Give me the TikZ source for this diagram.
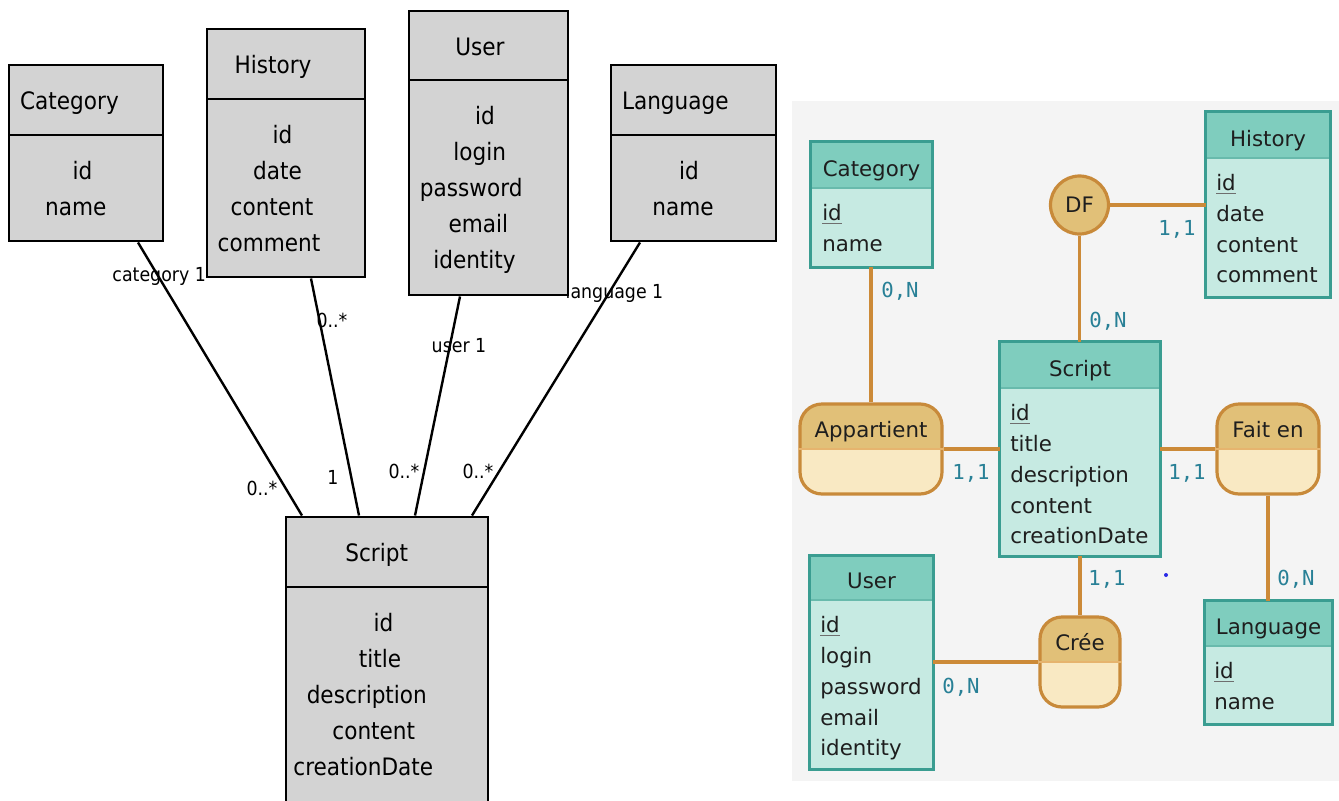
\documentclass[tikz,border=0pt]{standalone}
\usepackage{fontspec}
\usetikzlibrary{fit}
\newfontfamily\lfont[FakeStretch=0.9]{DejaVu Sans}
\newfontfamily\rfont{DejaVu Sans}
\newfontfamily\cfont{DejaVu Sans Mono}
\newcommand\pxu[1]{#1*0.75pt}
\definecolor{lgray}{RGB}{211,211,211}
\definecolor{bgc}{RGB}{244,244,244}
\definecolor{ehd}{RGB}{127,205,190}
\definecolor{ebd}{RGB}{198,234,226}
\definecolor{ebr}{RGB}{58,157,145}
\definecolor{esp}{RGB}{104,186,172}
\definecolor{ahd}{RGB}{225,192,120}
\definecolor{abd}{RGB}{249,233,195}
\definecolor{abr}{RGB}{200,138,58}
\definecolor{asp}{RGB}{230,180,110}
\definecolor{lnk}{RGB}{204,138,56}
\definecolor{crd}{RGB}{40,128,150}
\definecolor{rtx}{RGB}{30,30,30}
\definecolor{ulc}{RGB}{110,110,110}
\definecolor{dotc}{RGB}{40,40,230}
\tikzset{
  lbox/.style={draw=black, line width=2.2pt, fill=lgray, inner sep=0pt},
  ltxt/.style={inner sep=0pt, anchor=base, font=\lfont\fontsize{18}{20}\selectfont},
  llab/.style={inner sep=0pt, anchor=base, font=\lfont\fontsize{14.5}{16}\selectfont},
  llink/.style={draw=black, line width=1.8pt},
  ehead/.style={fill=ehd, inner sep=0pt},
  ebody/.style={fill=ebd, inner sep=0pt},
  eframe/.style={draw=ebr, line width=2.4pt},
  esep/.style={draw=esp, line width=1.6pt},
  rtitle/.style={inner sep=0pt, anchor=base, text=rtx, font=\rfont\fontsize{16}{18}\selectfont},
  rattr/.style={inner sep=0pt, anchor=base west, text=rtx, font=\rfont\fontsize{16}{18}\selectfont},
  ul/.style={draw=ulc, line width=1.2pt},
  assoc/.style={draw=abr, line width=2.4pt, fill=abd, rounded corners=16.5pt, inner sep=0pt,
    path picture={\fill[ahd, sharp corners] (path picture bounding box.north west) rectangle ([yshift=-33.75pt]path picture bounding box.north east);}},
  asep/.style={draw=asp, line width=1.6pt},
  dfnode/.style={circle, draw=abr, line width=2.4pt, fill=ahd, inner sep=0pt, minimum size=43.5pt, text=rtx, font=\rfont\fontsize{16}{18}\selectfont},
  rlink/.style={draw=lnk, line width=2.4pt},
  card/.style={inner sep=0pt, anchor=base, text=crd, font=\cfont\fontsize{15.5}{17}\selectfont}
}
\begin{document}
\begin{tikzpicture}[x=0.75pt,y=-0.75pt]
\useasboundingbox (0,0) rectangle (1339,800);
\clip (0,0) rectangle (1339,800);
\fill[white] (0,0) rectangle (1339,800);

% ---------- left diagram: labels (under boxes) ----------
\node[llab] (lcat) at (159.2,281) {category 1};
\node[llab] (lhis) at (332,327) {0..*};
\node[llab] (lusr) at (459,352) {user 1};
\node[llab] (llan) at (614.5,298) {language 1};
\node[llab] (lsc1) at (262,495) {0..*};
\node[llab] (lsc2) at (333,484) {1};
\node[llab] (lsc3) at (404,478) {0..*};
\node[llab] (lsc4) at (478,478) {0..*};

% ---------- left diagram: boxes ----------
\node[lbox, fit={(9,65) (163,135)}] (cath) {};
\node[lbox, fit={(9,135) (163,241)}] (catb) {};
\node[ltxt] (catt) at (69.5,109) {Category};
\node[ltxt] (cata1) at (82.5,179) {id};
\node[ltxt] (cata2) at (75.7,215) {name};

\node[lbox, fit={(207,29) (365,99)}] (hish) {};
\node[lbox, fit={(207,99) (365,277)}] (hisb) {};
\node[ltxt] (hist) at (273,73) {History};
\node[ltxt] (hisa1) at (282.5,143) {id};
\node[ltxt] (hisa2) at (277.5,179) {date};
\node[ltxt] (hisa3) at (272,215) {content};
\node[ltxt] (hisa4) at (269,251) {comment};

\node[lbox, fit={(409,11) (568,80)}] (usrh) {};
\node[lbox, fit={(409,80) (568,295)}] (usrb) {};
\node[ltxt] (usrt) at (480,55) {User};
\node[ltxt] (usra1) at (485,124) {id};
\node[ltxt] (usra2) at (479.7,160) {login};
\node[ltxt] (usra3) at (471.2,196) {password};
\node[ltxt] (usra4) at (478.3,232) {email};
\node[ltxt] (usra5) at (474.5,268) {identity};

\node[lbox, fit={(611,65) (776,135)}] (lanh) {};
\node[lbox, fit={(611,135) (776,241)}] (lanb) {};
\node[ltxt] (lant) at (675.3,109) {Language};
\node[ltxt] (lana1) at (689,179) {id};
\node[ltxt] (lana2) at (683,215) {name};

\node[lbox, fit={(286,517) (488,587)}] (scrh) {};
\node[lbox, fit={(286,587) (488,815)}] (scrb) {};
\node[ltxt] (scrt) at (376.7,561) {Script};
\node[ltxt] (scra1) at (383.5,631) {id};
\node[ltxt] (scra2) at (380,667) {title};
\node[ltxt] (scra3) at (366.8,703) {description};
\node[ltxt] (scra4) at (373.8,739) {content};
\node[ltxt] (scra5) at (363.3,775) {creationDate};

% ---------- left diagram: links ----------
\draw[llink] ([xshift=\pxu{52}]catb.south) -- ([xshift=\pxu{-85}]scrh.north);
\draw[llink] ([xshift=\pxu{25}]hisb.south) -- ([xshift=\pxu{-28}]scrh.north);
\draw[llink] ([xshift=\pxu{-28.5}]usrb.south) -- ([xshift=\pxu{28}]scrh.north);
\draw[llink] ([xshift=\pxu{-53.5}]lanb.south) -- ([xshift=\pxu{85}]scrh.north);

% ---------- right diagram ----------
\fill[bgc] (792,101) rectangle (1339,781);

% entities
\node[ehead, fit={(811,142) (932,188)}] (rcath) {};
\node[ebody, fit={(811,188) (932,267)}] (rcatb) {};
\draw[esep] (rcath.south west) -- (rcath.south east);
\draw[eframe] (rcath.north west) rectangle (rcatb.south east);
\node[rtitle] (rcatt) at (871.5,176) {Category};
\node[rattr] (rcata1) at (822,220) {id};
\node[rattr] (rcata2) at (822,251) {name};
\draw[ul] ([yshift=-2.5pt]rcata1.base west) -- ([yshift=-2.5pt]rcata1.base east);

\node[ehead, fit={(1206,112) (1330,158)}] (rhish) {};
\node[ebody, fit={(1206,158) (1330,297)}] (rhisb) {};
\draw[esep] (rhish.south west) -- (rhish.south east);
\draw[eframe] (rhish.north west) rectangle (rhisb.south east);
\node[rtitle] (rhist) at (1268,146) {History};
\node[rattr] (rhisa1) at (1216,190) {id};
\node[rattr] (rhisa2) at (1216,221) {date};
\node[rattr] (rhisa3) at (1216,252) {content};
\node[rattr] (rhisa4) at (1216,282) {comment};
\draw[ul] ([yshift=-2.5pt]rhisa1.base west) -- ([yshift=-2.5pt]rhisa1.base east);

\node[ehead, fit={(1000,342) (1160,388)}] (rscrh) {};
\node[ebody, fit={(1000,388) (1160,556)}] (rscrb) {};
\draw[esep] (rscrh.south west) -- (rscrh.south east);
\draw[eframe] (rscrh.north west) rectangle (rscrb.south east);
\node[rtitle] (rscrt) at (1080,376) {Script};
\node[rattr] (rscra1) at (1010,420) {id};
\node[rattr] (rscra2) at (1010,451) {title};
\node[rattr] (rscra3) at (1010,482) {description};
\node[rattr] (rscra4) at (1010,513) {content};
\node[rattr] (rscra5) at (1010,543) {creationDate};
\draw[ul] ([yshift=-2.5pt]rscra1.base west) -- ([yshift=-2.5pt]rscra1.base east);

\node[ehead, fit={(810,556) (933,600)}] (rusrh) {};
\node[ebody, fit={(810,600) (933,769)}] (rusrb) {};
\draw[esep] (rusrh.south west) -- (rusrh.south east);
\draw[eframe] (rusrh.north west) rectangle (rusrb.south east);
\node[rtitle] (rusrt) at (871.5,588) {User};
\node[rattr] (rusra1) at (820,632) {id};
\node[rattr] (rusra2) at (820,663) {login};
\node[rattr] (rusra3) at (820,694) {password};
\node[rattr] (rusra4) at (820,725) {email};
\node[rattr] (rusra5) at (820,755) {identity};
\draw[ul] ([yshift=-2.5pt]rusra1.base west) -- ([yshift=-2.5pt]rusra1.base east);

\node[ehead, fit={(1205,601) (1332,646)}] (rlanh) {};
\node[ebody, fit={(1205,646) (1332,724)}] (rlanb) {};
\draw[esep] (rlanh.south west) -- (rlanh.south east);
\draw[eframe] (rlanh.north west) rectangle (rlanb.south east);
\node[rtitle] (rlant) at (1268.5,634) {Language};
\node[rattr] (rlana1) at (1214,678) {id};
\node[rattr] (rlana2) at (1214,709) {name};
\draw[ul] ([yshift=-2.5pt]rlana1.base west) -- ([yshift=-2.5pt]rlana1.base east);

% associations
\node[assoc, fit={(800,404) (942,494)}] (app) {};
\draw[asep] (app.west) -- (app.east);
\node[rtitle] (appt) at (871,437) {Appartient};

\node[assoc, fit={(1217,404) (1319,494)}] (fait) {};
\draw[asep] (fait.west) -- (fait.east);
\node[rtitle] (faitt) at (1268,437) {Fait en};

\node[assoc, fit={(1040,617) (1120,707)}] (cree) {};
\draw[asep] (cree.west) -- (cree.east);
\node[rtitle] (creet) at (1080,650) {Crée};

\node[dfnode] (df) at (1079.5,205) {DF};

% links
\draw[rlink] (app.north) -- (app.north |- rcatb.south);
\draw[rlink] (app.east) -- (app.east -| rscrb.west);
\draw[rlink] (fait.west -| rscrb.east) -- (fait.west);
\draw[rlink] (fait.south) -- (fait.south |- rlanh.north);
\draw[rlink] (rscrb.south) -- (cree.north);
\draw[rlink] (cree.west -| rusrb.east) -- (cree.west);
\draw[rlink] (df.east) -- (df.east -| rhisb.west);
\draw[rlink] (df.south) -- (df.south |- rscrh.north);

% cardinalities
\node[card] (c1) at (900,297) {0,N};
\node[card] (c2) at (971,479) {1,1};
\node[card] (c3) at (1187,479) {1,1};
\node[card] (c4) at (1296,585) {0,N};
\node[card] (c5) at (1107,585) {1,1};
\node[card] (c6) at (961,693) {0,N};
\node[card] (c7) at (1177,235) {1,1};
\node[card] (c8) at (1108,327) {0,N};

\fill[dotc] (1166,575) circle (2);
\end{tikzpicture}
\end{document}
